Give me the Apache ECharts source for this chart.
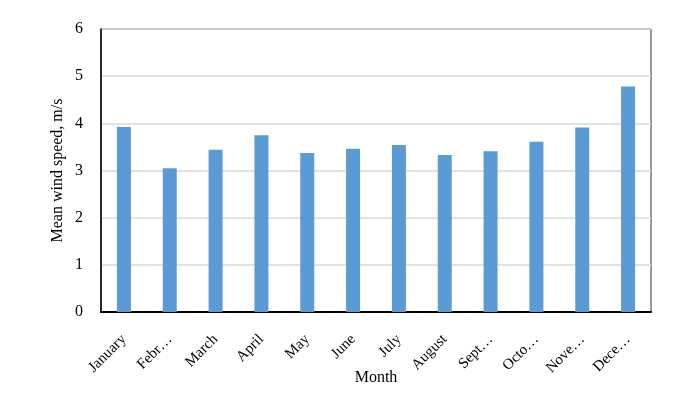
<!DOCTYPE html>
<html>
<head>
<meta charset="utf-8">
<script src="https://cdn.jsdelivr.net/npm/echarts@6/dist/echarts.min.js"></script>
<style>
  html, body { margin: 0; padding: 0; background: #fff; }
  #wind_chart { width: 690px; height: 399px; }
</style>
</head>
<body>
<div id="wind_chart"></div>
<script>
// Chart data
var monthLabels = ['January', 'Febr\u2026', 'March', 'April', 'May', 'June', 'July', 'August', 'Sept\u2026', 'Octo\u2026', 'Nove\u2026', 'Dece\u2026'];
var meanWindSpeed = [3.92, 3.05, 3.44, 3.75, 3.37, 3.46, 3.54, 3.33, 3.41, 3.61, 3.91, 4.78];
var yTicks = { min: 0, max: 6, interval: 1 };

var chartFont = '"Liberation Serif", "Times New Roman", serif';

var chartElement = document.getElementById('wind_chart');
var windChart = echarts.init(chartElement);

windChart.setOption({
    animation: false,
    textStyle: {
        fontFamily: chartFont
    },

    // Plot area (fixed, labels may sit outside)
    grid: {
        left: 101,
        right: 39,
        top: 29,
        bottom: 87,
        outerBoundsMode: 'none',
        show: true,
        borderColor: '#333',
        borderWidth: 1
    },

    // Horizontal axis
    xAxis: {
        type: 'category',
        data: monthLabels,
        name: 'Month',
        nameLocation: 'middle',
        nameGap: 58,
        nameMoveOverlap: false,
        nameTextStyle: {
            color: '#000',
            fontSize: 16,
            fontFamily: chartFont
        },
        axisTick: { show: false },
        axisLine: {
            lineStyle: { color: '#000', width: 2 }
        },
        axisLabel: {
            rotate: 45,
            interval: 0,
            margin: 25,
            color: '#000',
            fontSize: 15,
            fontFamily: chartFont
        }
    },

    // Vertical axis
    yAxis: {
        type: 'value',
        min: yTicks.min,
        max: yTicks.max,
        interval: yTicks.interval,
        name: 'Mean wind speed, m/s',
        nameLocation: 'middle',
        nameGap: 35,
        nameMoveOverlap: false,
        nameTextStyle: {
            color: '#000',
            fontSize: 16,
            fontFamily: chartFont
        },
        axisLine: {
            show: true,
            lineStyle: { color: '#000', width: 1.5 }
        },
        axisTick: { show: false },
        axisLabel: {
            margin: 18,
            color: '#000',
            fontSize: 16,
            fontFamily: chartFont
        },
        splitLine: {
            lineStyle: { color: '#d9d9d9', width: 1.5 }
        }
    },

    series: [{
        name: 'Mean wind speed',
        type: 'bar',
        data: meanWindSpeed,
        barWidth: 14,
        itemStyle: {
            color: '#5b9bd5'
        }
    }]
});
</script>
</body>
</html>
